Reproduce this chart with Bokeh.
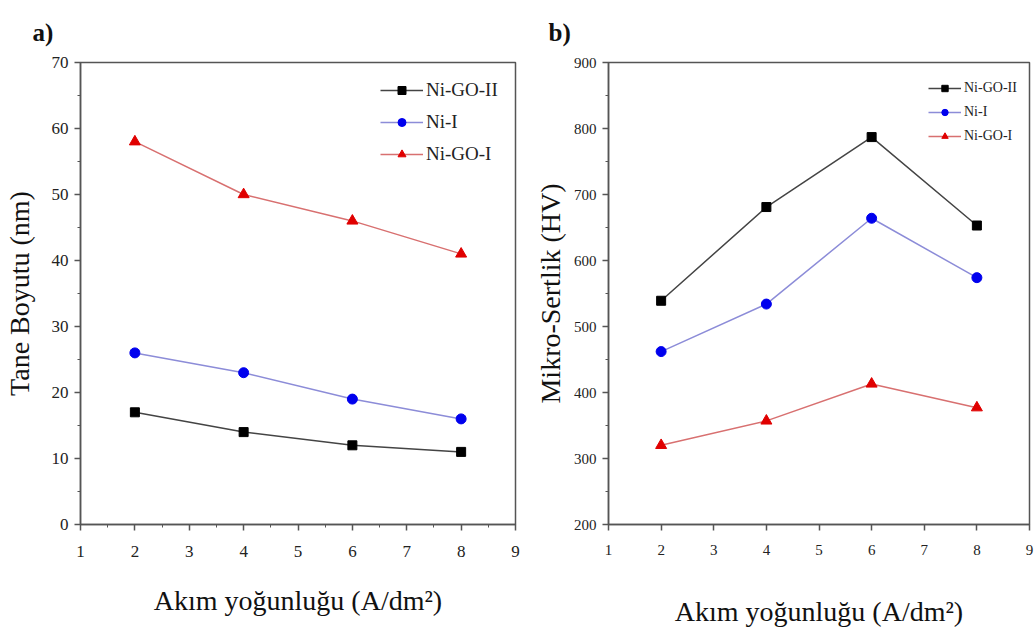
from bokeh.plotting import figure
from bokeh.layouts import row
from bokeh.models import Range1d, Legend, LegendItem, FixedTicker
from bokeh.embed import file_html
from bokeh.resources import INLINE

# ---- data ----
current = [2, 4, 6, 8]
series_names = ["Ni-GO-II", "Ni-I", "Ni-GO-I"]
grain_ni_go_ii = [17, 14, 12, 11]
grain_ni_i = [26, 23, 19, 16]
grain_ni_go_i = [58, 50, 46, 41]
hard_ni_go_ii = [539, 681, 787, 653]
hard_ni_i = [462, 534, 664, 574]
hard_ni_go_i = [320, 357, 413, 377]

x_ticks = [1, 2, 3, 4, 5, 6, 7, 8, 9]
ya_ticks = [0, 10, 20, 30, 40, 50, 60, 70]
yb_ticks = [200, 300, 400, 500, 600, 700, 800, 900]

FONT = "Liberation Serif"
AX = "#555555"
styles = [
    dict(line="#444444", marker="square", fill="#000000", size=9),
    dict(line="#8c8cd8", marker="circle", fill="#0000ee", size=10),
    dict(line="#d87070", marker="triangle", fill="#e00000", size=11),
]


def make(width, left, right, top, bottom, yr, yticks, data, tick_fs, leg_fs,
         leg_loc, leg_h, leg_sp, leg_gw, ylab, ylab_standoff, tag, tag_offset,
         xminor, xtick_standoff, xlab_standoff):
    p = figure(width=width, height=630, output_backend="svg", toolbar_location=None,
               x_range=Range1d(1, 9), y_range=Range1d(*yr),
               min_border_left=left, min_border_right=right,
               min_border_top=top, min_border_bottom=bottom)
    p.grid.visible = False
    p.outline_line_color = AX
    p.outline_line_width = 1.5
    for ax in (p.xaxis[0], p.yaxis[0]):
        ax.axis_line_color = AX
        ax.axis_line_width = 1.5
        ax.major_tick_line_color = AX
        ax.minor_tick_line_color = AX
        ax.major_tick_line_width = 1.5
        ax.major_tick_out = 6
        ax.major_tick_in = 0
        ax.minor_tick_out = 3
        ax.minor_tick_in = 0
        ax.major_label_text_font = FONT
        ax.major_label_text_font_size = f"{tick_fs}px"
        ax.major_label_text_color = "#222222"
        ax.major_label_standoff = 6
        ax.axis_label_text_font = FONT
        ax.axis_label_text_font_size = "28px"
        ax.axis_label_text_font_style = "normal"
        ax.axis_label_text_color = "#111111"
    p.xaxis[0].ticker = FixedTicker(ticks=x_ticks,
                                    minor_ticks=[t + 0.5 for t in x_ticks[:-1]] if xminor else [])
    p.yaxis[0].ticker = FixedTicker(ticks=yticks,
                                    minor_ticks=[(yticks[i] + yticks[i + 1]) / 2 for i in range(len(yticks) - 1)])
    p.xaxis[0].major_label_standoff = xtick_standoff
    p.xaxis[0].axis_label = "Akım yoğunluğu (A/dm²)"
    p.xaxis[0].axis_label_standoff = xlab_standoff
    p.yaxis[0].axis_label = ylab
    p.yaxis[0].axis_label_standoff = ylab_standoff

    p.title.text = tag
    p.title.align = "left"
    p.title.offset = tag_offset
    p.title.text_font = FONT
    p.title.text_font_size = "25px"
    p.title.text_font_style = "bold"
    p.title.text_color = "#111111"
    p.title.text_line_height = 1.0
    p.title.vertical_align = "top"
    p.title.standoff = 30

    items = []
    for name, ys, st in zip(series_names, data, styles):
        r1 = p.line(current, ys, line_color=st["line"], line_width=1.5)
        r2 = p.scatter(current, ys, marker=st["marker"], size=st["size"],
                       fill_color=st["fill"], line_color=st["fill"])
        items.append(LegendItem(label=name, renderers=[r1, r2]))
    leg = Legend(items=items, location=leg_loc, border_line_color=None,
                 background_fill_alpha=0, label_text_font=FONT,
                 label_text_font_size=f"{leg_fs}px", label_text_color="#222222",
                 glyph_height=leg_h, label_height=leg_h, glyph_width=leg_gw,
                 spacing=leg_sp, padding=4, margin=0, label_standoff=3)
    p.add_layout(leg, "center")
    return p


pa = make(530, 80, 15, 62, 103, (0, 70), ya_ticks,
          [grain_ni_go_ii, grain_ni_i, grain_ni_go_i], 17, 19,
          (300, 359), 20, 10, 43, "Tane Boyutu (nm)", 14, "a)", -48, True, 15, 25)
pb = make(505, 78, 6, 61, 106, (200, 900), yb_ticks,
          [hard_ni_go_ii, hard_ni_i, hard_ni_go_i], 15, 14,
          (320, 380), 16, 8, 33, "Mikro-Sertlik (HV)", 5, "b)", -60, False, 14, 38)

layout = row(pa, pb, spacing=0)
open("out.html", "w").write(file_html(layout, INLINE))
